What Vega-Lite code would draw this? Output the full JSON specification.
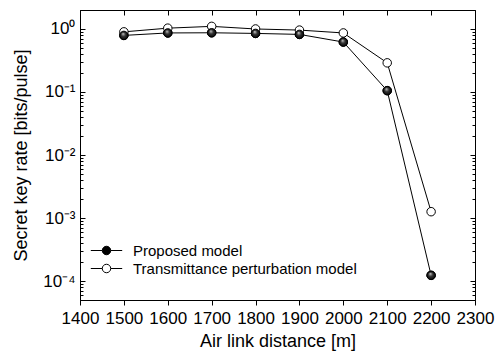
{
  "$schema": "https://vega.github.io/schema/vega-lite/v6.json",
  "width": 395,
  "height": 290,
  "autosize": {"type": "none"},
  "padding": {"left": 80, "top": 10, "right": 27, "bottom": 60},
  "background": "white",
  "config": {
    "font": "Liberation Sans",
    "view": {"stroke": "black", "strokeWidth": 1},
    "axis": {"grid": false, "domainColor": "black", "tickColor": "black", "labelColor": "black", "titleColor": "black", "labelFont": "Liberation Sans", "titleFont": "Liberation Sans", "titleFontWeight": "normal"}
  },
  "data": {
    "values": [
      {"d": 1500, "r": 0.79, "s": "Proposed model"},
      {"d": 1600, "r": 0.865, "s": "Proposed model"},
      {"d": 1700, "r": 0.87, "s": "Proposed model"},
      {"d": 1800, "r": 0.85, "s": "Proposed model"},
      {"d": 1900, "r": 0.82, "s": "Proposed model"},
      {"d": 2000, "r": 0.62, "s": "Proposed model"},
      {"d": 2100, "r": 0.105, "s": "Proposed model"},
      {"d": 2200, "r": 0.000123, "s": "Proposed model"},
      {"d": 1500, "r": 0.90, "s": "Transmittance perturbation model"},
      {"d": 1600, "r": 1.03, "s": "Transmittance perturbation model"},
      {"d": 1700, "r": 1.10, "s": "Transmittance perturbation model"},
      {"d": 1800, "r": 1.0, "s": "Transmittance perturbation model"},
      {"d": 1900, "r": 0.96, "s": "Transmittance perturbation model"},
      {"d": 2000, "r": 0.865, "s": "Transmittance perturbation model"},
      {"d": 2100, "r": 0.29, "s": "Transmittance perturbation model"},
      {"d": 2200, "r": 0.00126, "s": "Transmittance perturbation model"}
    ]
  },
  "resolve": {"axis": {"x": "independent", "y": "independent"}},
  "layer": [
    {
      "mark": {"type": "line", "color": "black", "strokeWidth": 1},
      "encoding": {
        "x": {"field": "d", "type": "quantitative",
          "scale": {"domain": [1400, 2300], "nice": false, "zero": false},
          "axis": {"orient": "bottom", "title": "Air link distance [m]", "values": [1400,1500,1600,1700,1800,1900,2000,2100,2200,2300], "format": "d", "labelFontSize": 17, "titleFontSize": 18, "tickSize": 5, "labelPadding": 5, "titlePadding": 6, "labelOverlap": false, "labelFlush": false}},
        "y": {"field": "r", "type": "quantitative",
          "scale": {"type": "log", "domain": [0.00005, 2], "nice": false},
          "axis": {"orient": "left", "title": "Secret key rate [bits/pulse]",
            "values": [0.00005,0.00006,0.00007,0.00008,0.00009,0.0001,0.0002,0.0003,0.0004,0.0005,0.0006,0.0007,0.0008,0.0009,0.001,0.002,0.003,0.004,0.005,0.006,0.007,0.008,0.009,0.01,0.02,0.03,0.04,0.05,0.06,0.07,0.08,0.09,0.1,0.2,0.3,0.4,0.5,0.6,0.7,0.8,0.9,1,2],
            "labelExpr": "abs(log(datum.value)/LN10 - round(log(datum.value)/LN10)) > 0.001 ? '' : datum.value >= 0.5 ? '10⁰' : datum.value >= 0.05 ? '10⁻¹' : datum.value >= 0.005 ? '10⁻²' : datum.value >= 0.0005 ? '10⁻³' : '10⁻⁴'",
            "tickSize": {"condition": {"test": "abs(log(datum.value)/LN10 - round(log(datum.value)/LN10)) < 0.001", "value": -5}, "value": -3},
            "labelOverlap": false, "labelFontSize": 17, "titleFontSize": 18, "labelPadding": 10, "titlePadding": 12}},
        "detail": {"field": "s", "type": "nominal"}
      }
    },
    {
      "mark": {"type": "line", "opacity": 0},
      "encoding": {
        "x": {"field": "d", "type": "quantitative", "axis": {"orient": "top", "title": null, "labels": false, "domain": false, "offset": -5, "values": [1400,1500,1600,1700,1800,1900,2000,2100,2200,2300], "tickSize": 5}},
        "y": {"field": "r", "type": "quantitative", "axis": {"orient": "right", "title": null, "labels": false, "domain": false, "tickSize": {"condition": {"test": "abs(log(datum.value)/LN10 - round(log(datum.value)/LN10)) < 0.001", "value": -5}, "value": -3},
          "values": [0.00005,0.00006,0.00007,0.00008,0.00009,0.0001,0.0002,0.0003,0.0004,0.0005,0.0006,0.0007,0.0008,0.0009,0.001,0.002,0.003,0.004,0.005,0.006,0.007,0.008,0.009,0.01,0.02,0.03,0.04,0.05,0.06,0.07,0.08,0.09,0.1,0.2,0.3,0.4,0.5,0.6,0.7,0.8,0.9,1,2]}},
        "detail": {"field": "s", "type": "nominal"}
      }
    },
    {
      "mark": {"type": "point", "shape": "circle", "size": 72, "stroke": "black", "strokeWidth": 1, "opacity": 1, "filled": false},
      "encoding": {
        "x": {"field": "d", "type": "quantitative", "axis": null},
        "y": {"field": "r", "type": "quantitative", "axis": null},
        "fill": {"field": "s", "type": "nominal",
          "scale": {"domain": ["Proposed model", "Transmittance perturbation model"], "range": ["black", "white"]},
          "legend": {"orient": "none", "legendX": 19, "legendY": 233, "title": null, "padding": 0,
            "symbolType": "M-3.7,0L-1,0M1,0L3.7,0M-1,0A1,1,0,1,0,1,0A1,1,0,1,0,-1,0Z",
            "symbolSize": 72, "symbolStrokeColor": "black", "symbolStrokeWidth": 1, "symbolOpacity": 1,
            "labelFontSize": 15, "labelFont": "Liberation Sans", "labelColor": "black", "labelOffset": 19, "rowPadding": 2, "labelLimit": 300}}
      }
    },
    {
      "transform": [{"filter": "datum.s == 'Proposed model'"}],
      "mark": {"type": "point", "shape": "circle", "size": 72, "stroke": "black", "strokeWidth": 1, "opacity": 1, "filled": true,
        "fill": {"gradient": "radial", "x1": 0.4, "y1": 0.3, "r1": 0, "x2": 0.5, "y2": 0.5, "r2": 0.55,
          "stops": [{"offset": 0, "color": "#cfcfcf"}, {"offset": 0.45, "color": "#333333"}, {"offset": 1, "color": "#000000"}]}},
      "encoding": {
        "x": {"field": "d", "type": "quantitative", "axis": null},
        "y": {"field": "r", "type": "quantitative", "axis": null}
      }
    }
  ]
}
